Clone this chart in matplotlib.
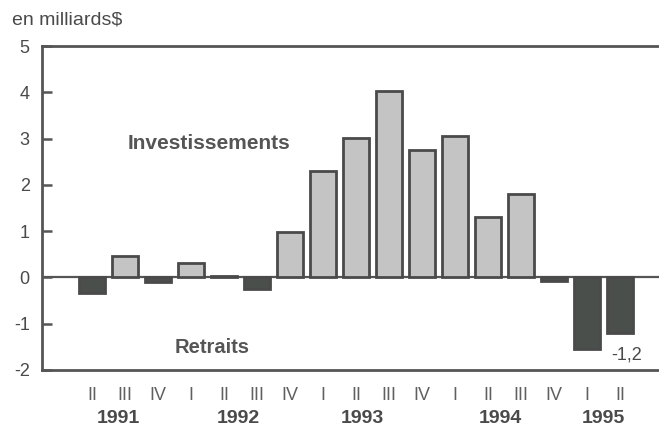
import matplotlib
matplotlib.use("Agg")
from matplotlib import pyplot as plt
import numpy as np

plt.rcParams['font.family'] = ['Liberation Sans', 'DejaVu Sans']
plt.rcParams['axes.unicode_minus'] = False

# trimestres de 1991 II a 1995 II
trimestres = ['II', 'III', 'IV', 'I', 'II', 'III', 'IV', 'I', 'II', 'III', 'IV',
              'I', 'II', 'III', 'IV', 'I', 'II']
valeurs = [-0.35, 0.45, -0.10, 0.30, 0.02, -0.25, 0.97, 2.30, 3.02, 4.02, 2.75,
           3.05, 1.30, 1.80, -0.08, -1.55, -1.20]
annees = ['1991', '1992', '1993', '1994', '1995']
pos_annees = [0.79, 4.42, 8.2, 12.36, 15.5]

gris_texte = '#4a4a4a'
couleurs = ['#c4c4c4' if v > 0 else '#4a4f4c' for v in valeurs]

fig = plt.figure(figsize=(6.59, 4.30), dpi=100)
ax = fig.add_axes([0.064, 0.14, 0.936, 0.753])

x = np.arange(len(valeurs))
ax.bar(x, valeurs, width=0.8, color=couleurs, edgecolor='#4a4a4a', linewidth=2, zorder=3)
ax.axhline(0, color='#555555', linewidth=1.6, zorder=2)

ax.set_xlim(-1.515, 17.18)
ax.set_ylim(-2, 5)
ax.set_yticks(range(-2, 6))
ax.tick_params(axis='y', direction='in', length=7, width=1.8, color='#555555',
               labelsize=13, labelcolor=gris_texte, pad=9)
ax.set_xticks([])

for s in ['top', 'left', 'bottom']:
    ax.spines[s].set_color('#555555')
    ax.spines[s].set_linewidth(2)
ax.spines['right'].set_visible(False)

# etiquettes des trimestres et des annees
for i, t in enumerate(trimestres):
    ax.text(i, -2.55, t, ha='center', va='center', fontsize=13,
            color='#606060', fontweight='light')
for p, a in zip(pos_annees, annees):
    ax.text(p, -3.05, a, ha='center', va='center', fontsize=14,
            color=gris_texte, fontweight='bold')

ax.text(1.06, 2.9, 'Investissements', ha='left', va='center', fontsize=15,
        color='#555555', fontweight='bold')
ax.text(2.5, -1.52, 'Retraits', ha='left', va='center', fontsize=14.5,
        color='#555555', fontweight='bold')
ax.text(16.2, -1.68, '-1,2', ha='center', va='center', fontsize=13,
        color=gris_texte)

fig.text(0.018, 0.953, 'en milliards$', ha='left', va='center', fontsize=14,
         color=gris_texte)

plt.savefig('out.png', dpi=100)
